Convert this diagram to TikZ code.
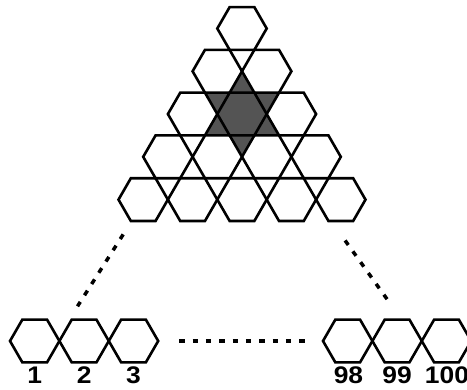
\documentclass[tikz,border=0pt]{standalone}
\usepackage{fontspec}
\newfontfamily\labelfont{Liberation Sans}
\begin{document}
\begin{tikzpicture}[x=1pt,y=-1pt,
  hexline/.style={line width=2.6pt, black},
  hexcell/.pic={\draw[hexline] (0:24.7) -- (60:24.7) -- (120:24.7) -- (180:24.7) -- (240:24.7) -- (300:24.7) -- cycle;},
  starfill/.style={fill={rgb,255:red,84;green,84;blue,84}},
  dotline/.style={line width=3.5pt, dash pattern=on 5.5pt off 7.83pt},
  cellnum/.style={font=\labelfont\bfseries\fontsize{24}{24}\selectfont, anchor=base, inner sep=0pt}
]
\clip (0,0) rectangle (467,390);

% shaded six-pointed star around the middle cell of the third row
\fill[starfill] (242,71.3) -- (279.05,135.5) -- (204.95,135.5) -- cycle;
\fill[starfill] (242,156.9) -- (279.05,92.7) -- (204.95,92.7) -- cycle;

% triangular stack of hexagons, rows of 1 to 5 cells
\foreach \k in {1,...,5} {
  \foreach \j in {1,...,\k} {
    \pic at ({242+(2*\j-\k-1)*24.7}, {28.5+(\k-1)*42.78}) {hexcell};
  }
}

% chain of hexagons along the bottom
\pic at (34.7,341) {hexcell};
\pic at (84.1,341) {hexcell};
\pic at (133.5,341) {hexcell};
\pic at (347.7,341) {hexcell};
\pic at (397.1,341) {hexcell};
\pic at (446.5,341) {hexcell};

% cell numbers
\node[cellnum] (n1) at (34.7,384) {\scalebox{1.1}[1]{1}};
\node[cellnum] (n2) at (84.1,384) {\scalebox{1.1}[1]{2}};
\node[cellnum] (n3) at (133.5,384) {\scalebox{1.1}[1]{3}};
\node[cellnum] (n98) at (348.5,384) {\scalebox{1.1}[1]{98}};
\node[cellnum] (n99) at (397.1,384) {\scalebox{1.1}[1]{99}};
\node[cellnum] (n100) at (447,384) {\scalebox{1.1}[1]{100}};

% dotted guides
\coordinate (gl1) at (123.2,234.4);
\coordinate (gl2) at (77.5,306.3);
\coordinate (gr1) at (345.1,240.5);
\coordinate (gr2) at (387.3,299.5);
\coordinate (gm1) at (179.25,341);
\coordinate (gm2) at (304.75,341);
\draw[dotline] (gl1) -- (gl2);
\draw[dotline] (gr1) -- (gr2);
\draw[dotline] (gm1) -- (gm2);
\end{tikzpicture}
\end{document}
